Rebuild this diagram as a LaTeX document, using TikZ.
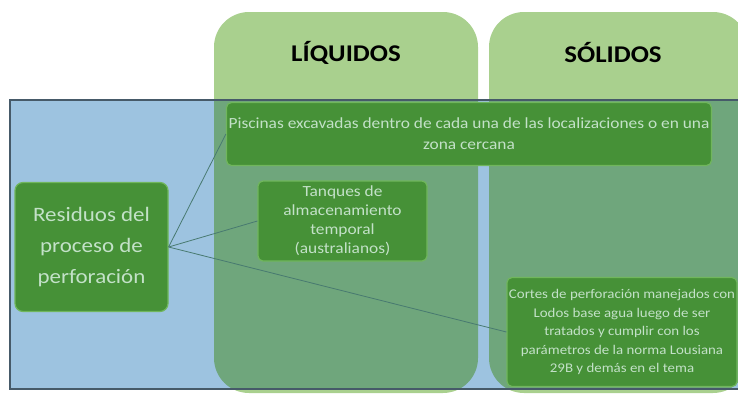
\documentclass[tikz,border=0pt]{standalone}
\usepackage{fontspec}
\setmainfont{Carlito}
\newfontfamily\boxfont[FakeStretch=1.12]{Carlito}
\usepackage{tikz}
\usetikzlibrary{positioning}
\definecolor{hdrgreen}{RGB}{169,208,142}
\definecolor{colgreen}{RGB}{111,166,124}
\definecolor{panelblue}{RGB}{157,195,224}
\definecolor{panelline}{RGB}{70,90,105}
\definecolor{boxgreen}{RGB}{70,145,55}
\definecolor{boxline}{RGB}{112,182,92}
\definecolor{boxtext}{RGB}{195,225,200}
\definecolor{linkcol}{RGB}{72,122,112}
\tikzstyle{box}=[rectangle, rounded corners=5pt, fill=boxgreen, draw=boxline, line width=1.2pt, text=boxtext, align=center, inner sep=0pt]
\tikzstyle{header}=[font=\boxfont\fontsize{24}{28}\selectfont\bfseries, text=black]
\tikzstyle{link}=[draw=linkcol, line width=0.8pt]

\begin{document}
\begin{tikzpicture}[x=1pt,y=-1pt]
\useasboundingbox (0,0) rectangle (738,394);
% columns
\fill[hdrgreen,rounded corners=35pt] (214,12) rectangle (478,393);
\fill[hdrgreen,rounded corners=35pt] (489,12) rectangle (748,393);
% panel
\fill[panelblue] (10,100) rectangle (745,389);
\begin{scope}
\clip (10,100) rectangle (745,389);
\fill[colgreen,rounded corners=35pt] (214,12) rectangle (478,393);
\fill[colgreen,rounded corners=35pt] (489,12) rectangle (748,393);
\end{scope}
\draw[panelline,line width=2pt] (10,100) rectangle (745,389);

\node(liq)[header] at (346,53){LÍQUIDOS};
\node(sol)[header] at (613,53){SÓLIDOS};

\node(res)[box,rounded corners=8pt,minimum width=153pt,minimum height=129pt,font=\boxfont\fontsize{20.5}{31}\selectfont] at (91.5,247){Residuos del\\proceso de\\perforación};
\node(pis)[box,minimum width=485pt,minimum height=63pt,font=\boxfont\fontsize{15.5}{21}\selectfont] at (469,134){Piscinas excavadas dentro de cada una de las localizaciones o en una\\zona cercana};
\node(tan)[box,minimum width=169pt,minimum height=80pt,font=\boxfont\fontsize{15.5}{19}\selectfont] at (342.5,221){Tanques de\\almacenamiento\\temporal\\(australianos)};
\node(cor)[box,minimum width=230pt,minimum height=109pt,font=\boxfont\fontsize{13.3}{18.5}\selectfont] at (622,332){Cortes de perforación manejados con\\Lodos base agua luego de ser\\tratados y cumplir con los\\parámetros de la norma Lousiana\\29B y demás en el tema};

\draw[link](res.east)--(pis.west);
\draw[link](res.east)--(tan.west);
\draw[link](res.east)--(cor.west);
\end{tikzpicture}
\end{document}
